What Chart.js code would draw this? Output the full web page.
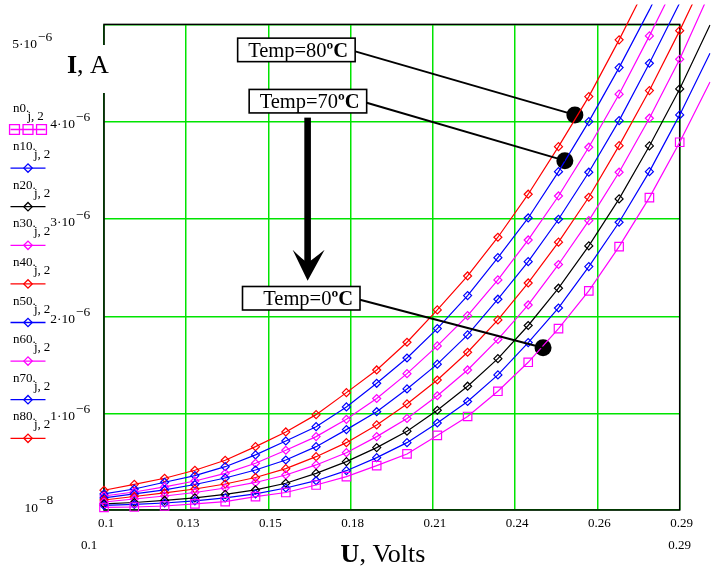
<!DOCTYPE html>
<html>
<head>
<meta charset="utf-8">
<script src="https://cdn.jsdelivr.net/npm/chart.js@4.4.1/dist/chart.umd.min.js"></script>
<style>
html,body{margin:0;padding:0;background:#fff;}
#wrap{width:720px;height:569px;position:relative;}
</style>
</head>
<body>
<div id="wrap"><canvas id="c"></canvas></div>
<script>
// ---------- DATA (current in µA, voltage in V) ----------
const voltages = [0.10,0.11,0.12,0.13,0.14,0.15,0.16,0.17,0.18,0.19,0.20,0.21,0.22,0.23,0.24,0.25,0.26,0.27,0.28,0.29,0.30];

const n0  = [0.036,0.041,0.051,0.072,0.096,0.147,0.190,0.267,0.353,0.466,0.586,0.776,0.971,1.230,1.528,1.874,2.261,2.716,3.220,3.789,4.409];
const n10 = [0.057,0.067,0.082,0.103,0.134,0.175,0.236,0.311,0.414,0.548,0.702,0.904,1.125,1.398,1.730,2.086,2.511,2.967,3.487,4.070,4.704];
const n20 = [0.072,0.087,0.108,0.134,0.170,0.216,0.285,0.387,0.507,0.651,0.820,1.035,1.282,1.565,1.906,2.289,2.724,3.207,3.751,4.337,4.995];
const n30 = [0.092,0.123,0.154,0.190,0.236,0.293,0.370,0.473,0.599,0.764,0.951,1.184,1.449,1.763,2.117,2.533,2.984,3.481,4.036,4.642,5.334];
const n40 = [0.113,0.149,0.185,0.226,0.277,0.344,0.435,0.558,0.702,0.884,1.100,1.346,1.631,1.963,2.343,2.762,3.224,3.754,4.320,4.936,5.591];
const n50 = [0.134,0.175,0.216,0.272,0.339,0.421,0.524,0.661,0.836,1.020,1.254,1.509,1.809,2.176,2.562,2.998,3.481,4.011,4.601,5.221,null];
const n60 = [0.154,0.195,0.247,0.308,0.387,0.490,0.624,0.764,0.942,1.156,1.411,1.696,2.007,2.374,2.785,3.237,3.738,4.283,4.882,5.509,null];
const n70 = [0.175,0.226,0.295,0.363,0.455,0.576,0.719,0.866,1.069,1.312,1.572,1.874,2.213,2.603,3.011,3.487,4.001,4.556,5.149,5.786,null];
const n80 = [0.213,0.274,0.336,0.418,0.521,0.661,0.812,0.990,1.216,1.449,1.734,2.066,2.415,2.813,3.255,3.744,4.258,4.841,5.457,null,null];

const seriesNames  = ["n0","n10","n20","n30","n40","n50","n60","n70","n80"];
const seriesSub    = "j,2";
const seriesValues = [n0,n10,n20,n30,n40,n50,n60,n70,n80];

const xMin = 0.1, xMax = 0.29;
const yMin = 0.01, yMax = 5;
const xTickValues = [0.1,0.127143,0.154286,0.181429,0.208571,0.235714,0.262857,0.29];
const xTickLabels = ["0.1","0.13","0.15","0.18","0.21","0.24","0.26","0.29"];
const xLimitValues = [0.1,0.29];
const xLimitLabels = ["0.1","0.29"];

const yTickValues   = [0.01,1,2,3,4,5];
const yTickMantissa = ["10","1\u00b710","2\u00b710","3\u00b710","4\u00b710","5\u00b710"];
const yTickExponent = ["\u22128","\u22126","\u22126","\u22126","\u22126","\u22126"];

const xTitleBold = "U", xTitleRest = ", Volts";
const yTitleBold = "I", yTitleRest = ", A";

const noteTexts   = ["Temp=80","Temp=70","Temp=0"];
const noteUnit    = "\u00baC";
const noteBoxU    = [0.1635,0.1673,0.1651];
const noteBoxI    = [4.738,4.211,2.186];
const noteDotU    = [0.2554,0.2521,0.2449];
const noteDotI    = [4.07,3.60,1.678];
const arrowU = 0.1672, arrowFromI = 4.042, arrowToI = 2.367;

// ---------- STYLE ----------
const seriesColors = ["#ff00ff","#0000ff","#000000","#ff00ff","#ff0000","#0000ff","#ff00ff","#0000ff","#ff0000"];
const seriesStyles = ["rect","rectRot","rectRot","rectRot","rectRot","rectRot","rectRot","rectRot","rectRot"];
const seriesRadius = [6,4,4,4,4,4,4,4,4];
const GRID = "rgb(0,228,0)";
const FONT = '"Liberation Serif","Times New Roman",serif';

function markerRadius(i){
  return function(c){
    const r = c.raw;
    if (!r || r.y === null || r.y === undefined) return 0;
    if (r.x > xMax + 0.0005 || r.y > yMax + 0.0001) return 0;
    return seriesRadius[i];
  };
}

const datasets = seriesValues.map((vals,i)=>({
  label: seriesNames[i],
  data: vals.map((v,k)=>({x: voltages[k], y: v})),
  borderColor: seriesColors[i],
  backgroundColor: 'rgba(0,0,0,0)',
  borderWidth: 1.2,
  pointStyle: seriesStyles[i],
  pointRadius: markerRadius(i),
  pointBorderColor: seriesColors[i],
  pointBackgroundColor: 'rgba(0,0,0,0)',
  pointBorderWidth: 1.2,
  tension: 0,
  spanGaps: false,
  clip: {left: 6, top: 20, right: 31, bottom: 6}
}));

datasets.push({
  label: 'notes',
  data: noteDotU.map((u,k)=>({x:u, y:noteDotI[k]})),
  showLine: false,
  pointStyle: 'circle',
  pointRadius: 8.5,
  pointBackgroundColor: '#000',
  pointBorderColor: '#000',
  pointBorderWidth: 0,
  clip: false
});

function drawSup(ctx, main, sup, xRight, baseMain, baseSup, size){
  ctx.font = size + 'px ' + FONT;
  ctx.textAlign = 'right';
  ctx.fillText(main, xRight, baseMain);
  ctx.textAlign = 'left';
  ctx.fillText(sup, xRight + 1, baseSup);
}

function drawMarker(ctx, style, r, x, y){
  ctx.beginPath();
  if (style === 'rect'){
    const s = Math.SQRT1_2 * r;
    ctx.rect(x - s, y - s, 2*s, 2*s);
  } else {
    ctx.moveTo(x - r, y); ctx.lineTo(x, y - r); ctx.lineTo(x + r, y); ctx.lineTo(x, y + r); ctx.closePath();
  }
  ctx.stroke();
}

const deco = {
  id: 'deco',
  beforeDatasetsDraw(chart){
    const {ctx, chartArea:a} = chart;
    ctx.save();
    ctx.strokeStyle = '#000'; ctx.lineWidth = 1.5;
    ctx.strokeRect(a.left, a.top, a.right - a.left, a.bottom - a.top);
    ctx.restore();
  },
  afterDatasetsDraw(chart){
    const {ctx, chartArea:a} = chart;
    const xs = chart.scales.x, ys = chart.scales.y;
    ctx.save();
    ctx.fillStyle = '#000';
    ctx.textBaseline = 'alphabetic';

    // y axis title with white backing
    ctx.fillStyle = '#fff';
    ctx.fillRect(60, 45, 50, 48);
    ctx.fillStyle = '#000';
    ctx.font = 'bold 26px ' + FONT;
    ctx.textAlign = 'left';
    const yb = ctx.measureText(yTitleBold).width;
    ctx.fillText(yTitleBold, 67, 73);
    ctx.font = '26px ' + FONT;
    ctx.fillText(yTitleRest, 67 + yb, 73);

    // x axis title
    ctx.font = 'bold 26px ' + FONT;
    const xbw = ctx.measureText(xTitleBold).width;
    ctx.font = '26px ' + FONT;
    const xrw = ctx.measureText(xTitleRest).width;
    const xt0 = 383 - (xbw + xrw)/2;
    ctx.font = 'bold 26px ' + FONT;
    ctx.fillText(xTitleBold, xt0, 562);
    ctx.font = '26px ' + FONT;
    ctx.fillText(xTitleRest, xt0 + xbw, 562);

    // x tick labels
    ctx.font = '13px ' + FONT;
    ctx.textAlign = 'center';
    xTickValues.forEach((v,i)=>{
      ctx.fillText(xTickLabels[i], xs.getPixelForValue(v) + 2, a.bottom + 16.5);
    });
    // axis limit labels
    ctx.fillText(xLimitLabels[0], xs.getPixelForValue(xLimitValues[0]) - 15, a.bottom + 39);
    ctx.fillText(xLimitLabels[1], xs.getPixelForValue(xLimitValues[1]), a.bottom + 39);

    // y tick labels
    yTickValues.forEach((v,i)=>{
      const py = ys.getPixelForValue(v);
      let xr = 75, bm = py + 6.5, bs = py - 0.5;
      if (i === 0){ xr = 38; bm = py + 1.7; bs = py - 6.5; }
      if (i === yTickValues.length - 1){ xr = 37; bm = py + 23.6; bs = py + 17; }
      drawSup(ctx, yTickMantissa[i], yTickExponent[i], xr, bm, bs, 13.5);
    });

    // legend
    seriesNames.forEach((name,i)=>{
      const ly = 129.5 + i*38.6;
      ctx.strokeStyle = seriesColors[i];
      ctx.lineWidth = 1.3;
      ctx.beginPath(); ctx.moveTo(10.5, ly); ctx.lineTo(45.5, ly); ctx.stroke();
      if (seriesStyles[i] === 'rect'){
        [14.5, 28, 41.5].forEach(mx=>drawMarker(ctx, 'rect', 7, mx, ly));
      } else {
        drawMarker(ctx, 'rectRot', 4.2, 28, ly);
      }
      ctx.fillStyle = '#000';
      ctx.font = '13px ' + FONT;
      ctx.textAlign = 'left';
      ctx.fillText(name + '.', 13, ly - 18);
      const nw = ctx.measureText(name).width;
      const parts = seriesSub.split(',');
      const sx = 13 + nw + 1.5;
      ctx.fillText(parts[0] + ',', sx, ly - 10);
      const jw = ctx.measureText(parts[0] + ',').width;
      ctx.fillText(parts[1], sx + jw + 3, ly - 10);
    });

    // arrow
    const ax = xs.getPixelForValue(arrowU);
    const aTop = ys.getPixelForValue(arrowFromI);
    const aTip = ys.getPixelForValue(arrowToI);
    ctx.fillStyle = '#000';
    ctx.fillRect(ax - 3.3, aTop, 6.6, (aTip - 16) - aTop);
    ctx.beginPath();
    ctx.moveTo(ax, aTip);
    ctx.lineTo(ax + 17, aTip - 31);
    ctx.quadraticCurveTo(ax + 6, aTip - 22, ax, aTip - 18);
    ctx.quadraticCurveTo(ax - 6, aTip - 22, ax - 15, aTip - 31);
    ctx.closePath();
    ctx.fill();

    // notes: connectors + boxes
    const BW = 117.5, BH = 23.5;
    noteTexts.forEach((t,i)=>{
      const cx = xs.getPixelForValue(noteBoxU[i]);
      const cy = ys.getPixelForValue(noteBoxI[i]);
      const dx = xs.getPixelForValue(noteDotU[i]);
      const dy = ys.getPixelForValue(noteDotI[i]);
      const left = cx - BW/2, top = cy - BH/2;
      ctx.strokeStyle = '#000';
      ctx.lineWidth = 2;
      ctx.beginPath(); ctx.moveTo(left + BW, cy + 1.5); ctx.lineTo(dx, dy); ctx.stroke();
      ctx.fillStyle = '#fff';
      ctx.fillRect(left, top, BW, BH);
      ctx.lineWidth = 1.6;
      ctx.strokeRect(left, top, BW, BH);
      ctx.fillStyle = '#000';
      ctx.textAlign = 'right';
      ctx.font = 'bold 20.5px ' + FONT;
      const uw = ctx.measureText(noteUnit).width;
      const right = left + BW - 7;
      ctx.fillText(noteUnit, right, cy + 7);
      ctx.font = '20.5px ' + FONT;
      ctx.fillText(t, right - uw, cy + 7);
    });
    ctx.restore();
  }
};

new Chart(document.getElementById('c'), {
  type: 'line',
  data: { datasets },
  plugins: [deco],
  options: {
    responsive: true,
    maintainAspectRatio: false,
    animation: false,
    events: [],
    layout: { padding: { left: 104, right: 40.3, top: 24.4, bottom: 59 } },
    plugins: { legend: { display: false }, tooltip: { enabled: false } },
    scales: {
      x: {
        type: 'linear',
        bounds: 'data',
        afterDataLimits: s => { s.min = xMin; s.max = xMax; },
        afterBuildTicks: s => { s.ticks = xTickValues.map(v => ({value: v})); s.min = xMin; s.max = xMax; },
        afterFit: s => { s.height = 0; },
        ticks: { display: false },
        border: { display: false },
        grid: { color: GRID, lineWidth: 1.5, drawTicks: false }
      },
      y: {
        type: 'linear',
        bounds: 'data',
        afterDataLimits: s => { s.min = yMin; s.max = yMax; },
        afterBuildTicks: s => { s.ticks = yTickValues.map(v => ({value: v})); s.min = yMin; s.max = yMax; },
        afterFit: s => { s.width = 0; },
        ticks: { display: false },
        border: { display: false },
        grid: { color: GRID, lineWidth: 1.5, drawTicks: false }
      }
    }
  }
});
</script>
</body>
</html>
